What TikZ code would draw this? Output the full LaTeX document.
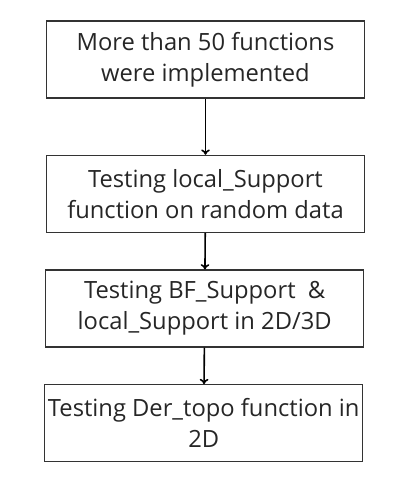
\documentclass[tikz,border=0pt]{standalone}
\usepackage{fontspec}
\setmainfont{Open Sans}
\usetikzlibrary{arrows.meta}
\begin{document}
\begin{tikzpicture}[x=0.75pt,y=-0.75pt,
  stepbox/.style={draw=black!80,line width=0.8pt,minimum width=318*0.75pt,minimum height=77*0.75pt,inner sep=0pt,align=center,font=\fontsize{17.8}{23.3}\selectfont,text=black!85},
  link/.style={line width=1.2pt,-{To[length=4pt,width=6.5pt]}}]
\useasboundingbox (0,0) rectangle (400,486);
\node[stepbox] (b1) at (205.5,59.5) {More than 50 functions\\were implemented};
\node[stepbox] (b2) at (205.5,193.8) {Testing local\_Support\\function on random data};
\node[stepbox] (b3) at (204.7,308.5) {Testing BF\_Support\ \ \&\\local\_Support in 2D/3D};
\node[stepbox] (b4) at (203.7,423.2) {Testing Der\_topo function in\\2D};
\draw[link] (b1) -- (b2);
\draw[link] (b2) -- (b3);
\draw[link] (b3) -- (b4);
\end{tikzpicture}
\end{document}
